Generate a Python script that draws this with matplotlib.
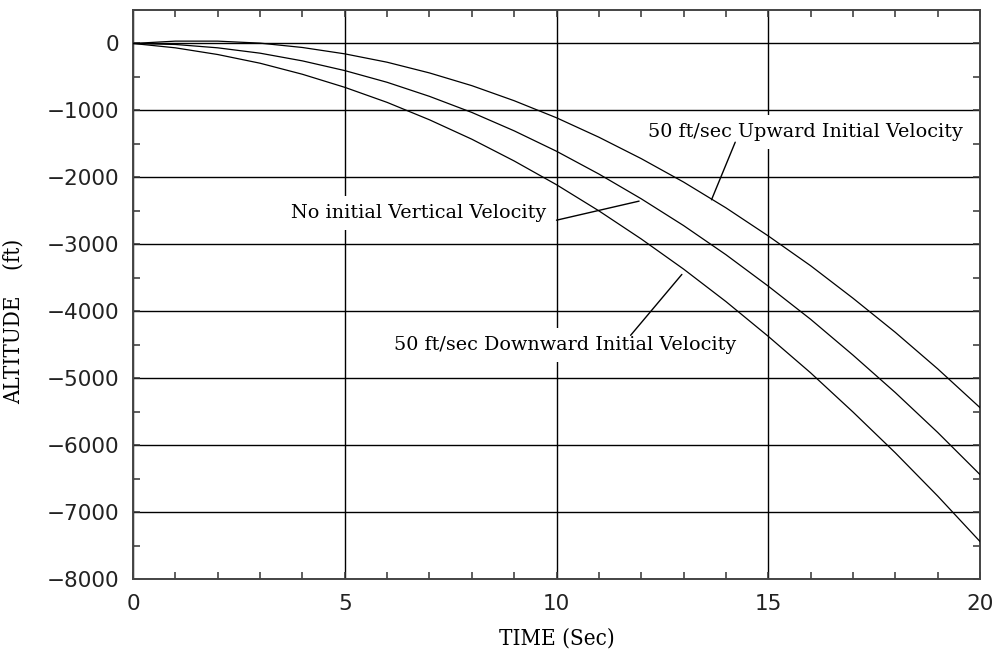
import matplotlib.pyplot as plt
from matplotlib.ticker import MultipleLocator

# values, one point per second
time_s = list(range(21))
alt_up = [0, 35, 35, 5, -60, -155, -280, -440, -630, -855, -1110, -1400, -1720,
          -2070, -2455, -2875, -3320, -3805, -4315, -4860, -5440]
alt_none = [0, -15, -65, -145, -260, -405, -580, -790, -1030, -1305, -1610, -1950,
            -2320, -2720, -3155, -3625, -4120, -4655, -5215, -5810, -6440]
alt_down = [0, -65, -165, -295, -460, -655, -880, -1140, -1430, -1755, -2110, -2500,
            -2920, -3370, -3855, -4375, -4920, -5505, -6115, -6760, -7440]

labels = ['50 ft/sec Upward Initial Velocity',
          'No initial Vertical Velocity',
          '50 ft/sec Downward Initial Velocity']
label_pos = [(15.88, -1320), (6.75, -2530), (10.21, -4505)]
leader_from = [(14.22, -1475), (10.0, -2640), (11.75, -4360)]
leader_to = [(13.66, -2335), (11.95, -2355), (12.96, -3450)]

fig = plt.figure(figsize=(9.95, 6.51), dpi=100)
ax = fig.add_axes([133 / 995, 1 - 579 / 651, 847 / 995, 569 / 651])

for alt in (alt_up, alt_none, alt_down):
    ax.plot(time_s, alt, color='black', lw=0.9, zorder=3)

ax.set_xlim(0, 20)
ax.set_ylim(-8000, 500)
ax.xaxis.set_major_locator(MultipleLocator(5))
ax.xaxis.set_minor_locator(MultipleLocator(1))
ax.yaxis.set_major_locator(MultipleLocator(1000))
ax.yaxis.set_minor_locator(MultipleLocator(500))
ax.grid(True, which='major', color='black', lw=1.0, zorder=1)

ax.tick_params(which='both', direction='in', top=True, right=True,
               length=5, width=1.1, color='#333333')
ax.tick_params(axis='both', which='major', labelsize=15.5, labelcolor='#222222')
ax.tick_params(axis='x', which='major', pad=11)
ax.tick_params(axis='y', which='major', pad=10)
for sp in ax.spines.values():
    sp.set_color('#444444')
    sp.set_linewidth(1.4)

ax.set_xlabel('TIME (Sec)', family='DejaVu Serif', stretch='condensed', fontsize=16)
ax.set_ylabel('ALTITUDE    (ft)', family='DejaVu Serif', stretch='condensed', fontsize=16)
ax.xaxis.set_label_coords(0.5, -0.085)
ax.yaxis.set_label_coords(-0.128, 0.452)

for text, pos, p0, p1 in zip(labels, label_pos, leader_from, leader_to):
    ax.text(pos[0], pos[1], text, family='DejaVu Serif', fontsize=13.8,
            ha='center', va='center', zorder=4,
            bbox=dict(facecolor='white', edgecolor='none', pad=6))
    ax.annotate('', xy=p1, xytext=p0,
                arrowprops=dict(arrowstyle='-', color='black', lw=1.0,
                                shrinkA=0, shrinkB=0), zorder=5)

fig.savefig('out.png', dpi=100)
